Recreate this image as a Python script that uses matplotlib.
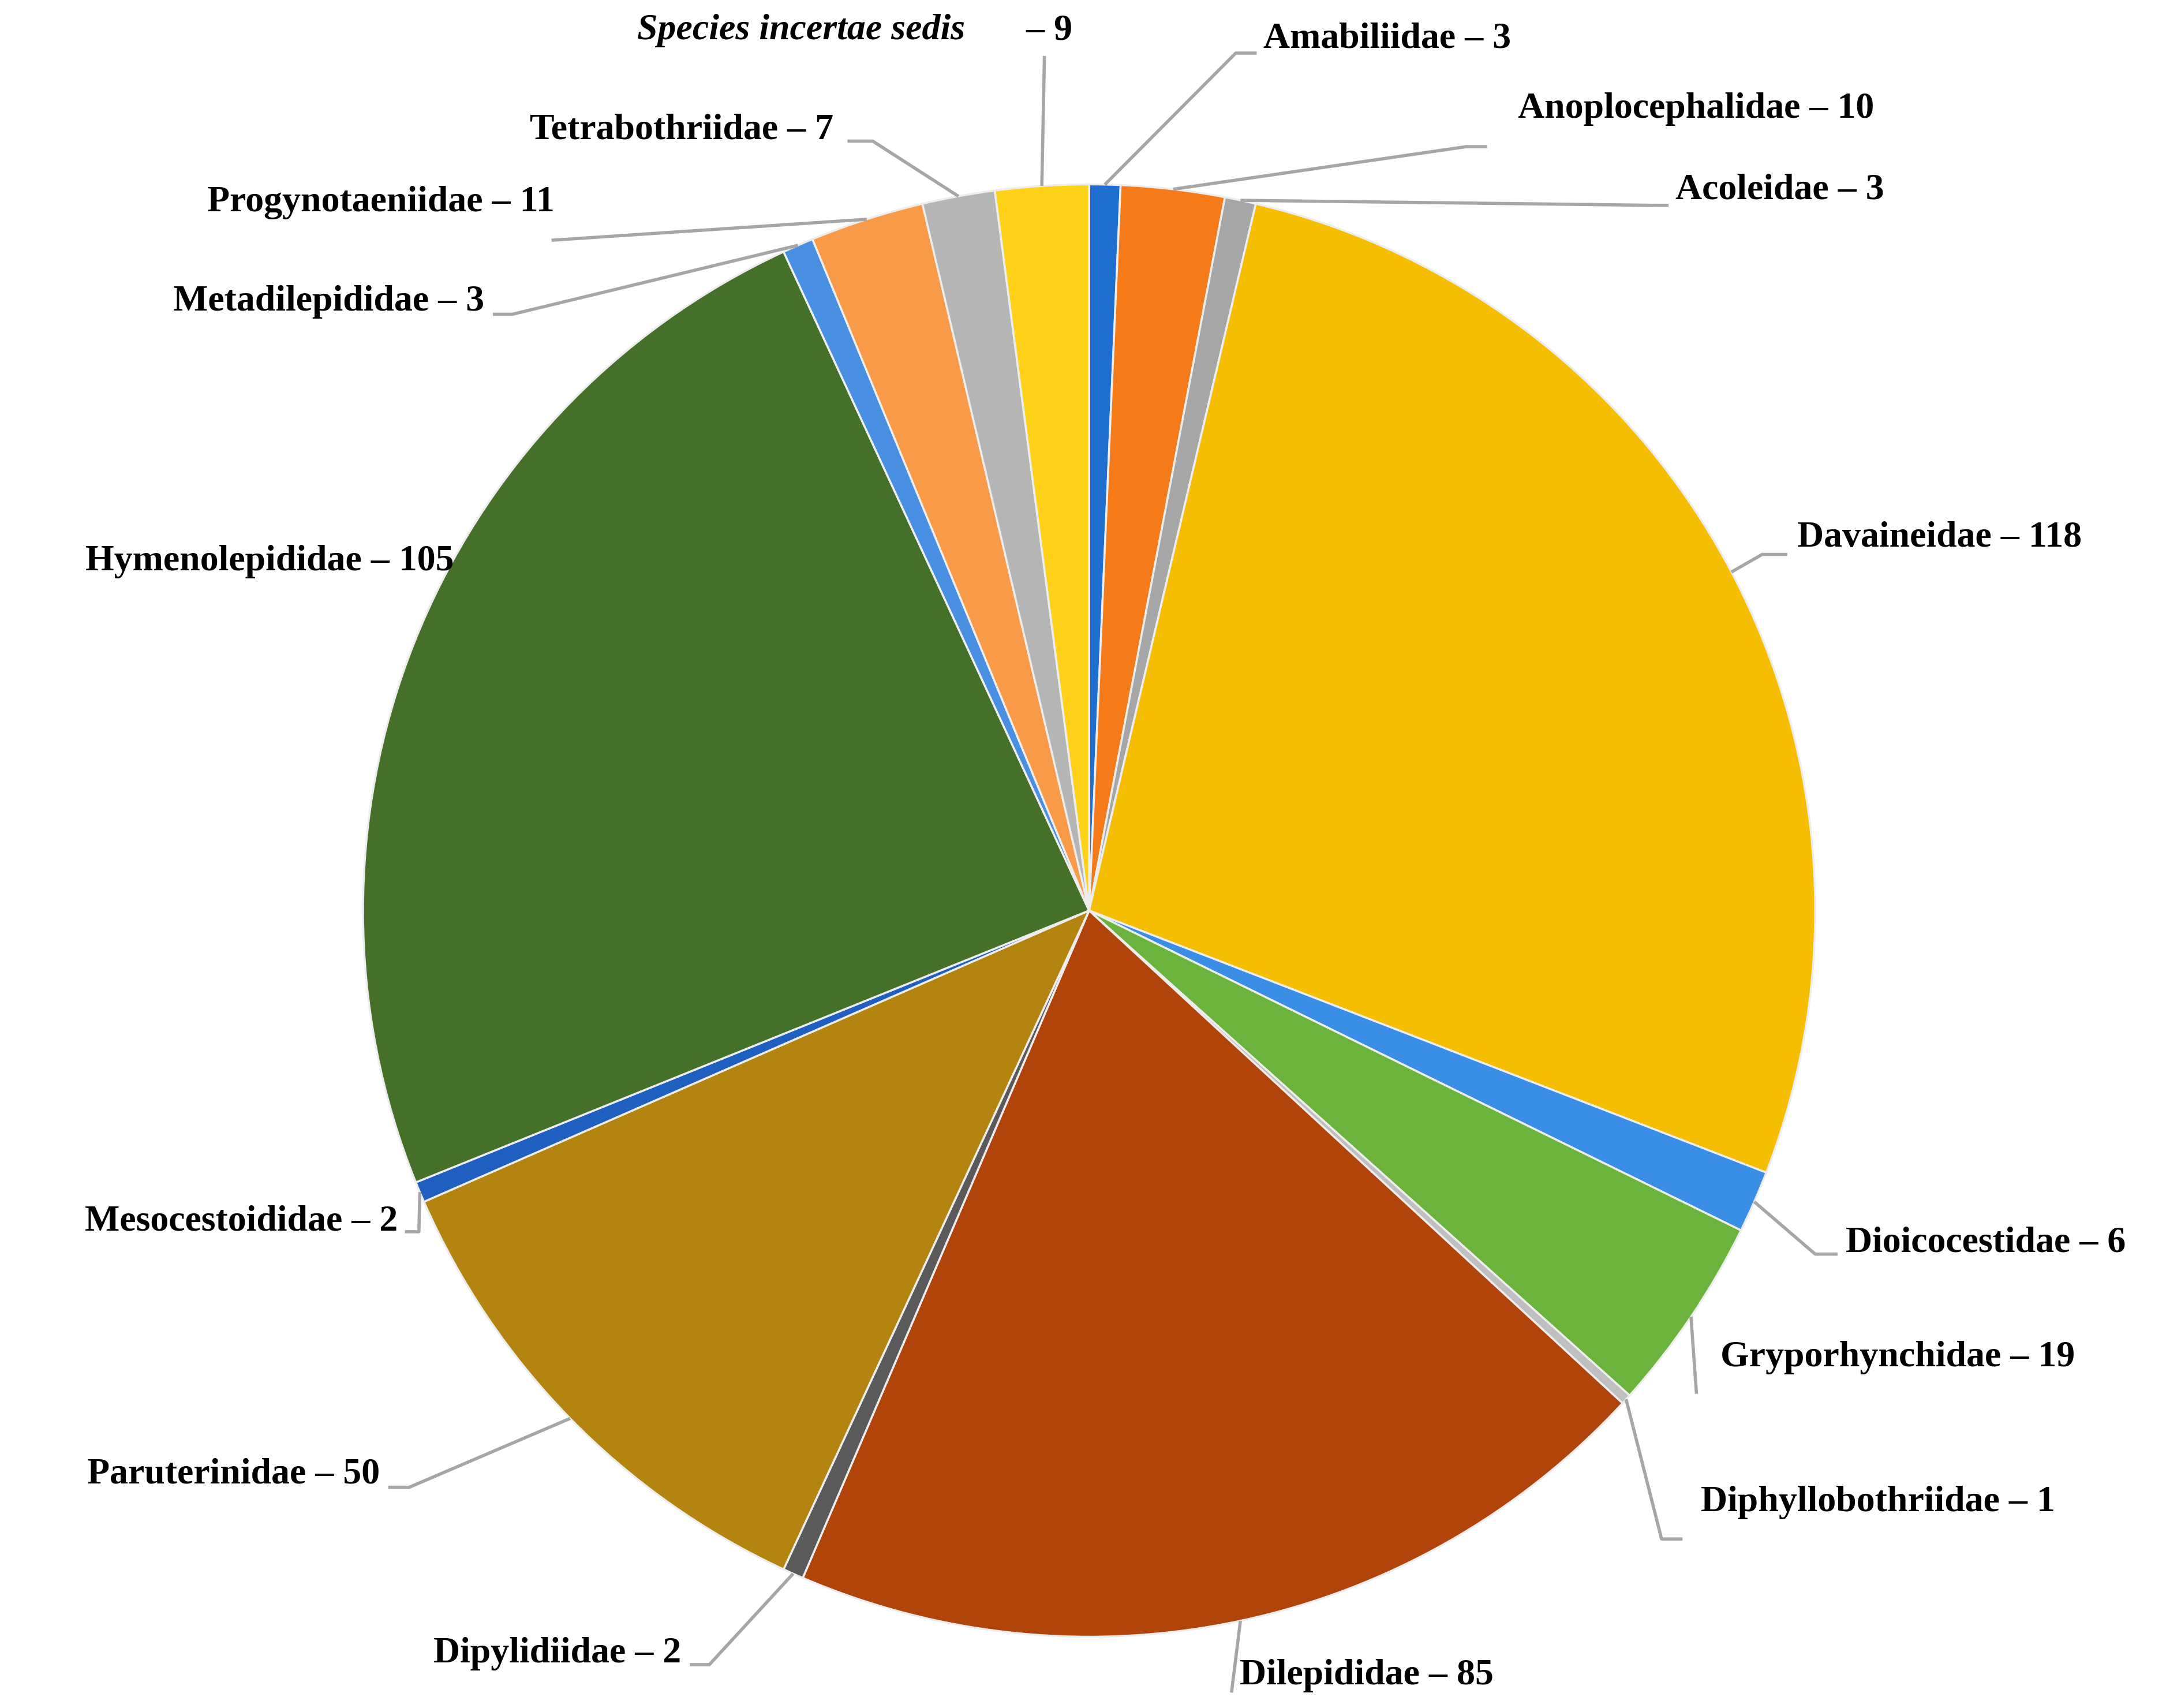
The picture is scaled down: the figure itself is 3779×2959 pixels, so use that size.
import numpy as np
import matplotlib
matplotlib.use('Agg')
import matplotlib.pyplot as plt

# data, clockwise from 12 o'clock
families = ['Amabiliidae', 'Anoplocephalidae', 'Acoleidae', 'Davaineidae', 'Dioicocestidae',
            'Gryporhynchidae', 'Diphyllobothriidae', 'Dilepididae', 'Dipylidiidae', 'Paruterinidae',
            'Mesocestoididae', 'Hymenolepididae', 'Metadilepididae', 'Progynotaeniidae',
            'Tetrabothriidae', 'Species incertae sedis']
counts = [3, 10, 3, 118, 6, 19, 1, 85, 2, 50, 2, 105, 3, 11, 7, 9]
colors = ['#1F6FD0', '#F57A1A', '#A6A6A6', '#F5BE00', '#3A8EE6',
          '#6BB33C', '#BFBFBF', '#B0440A', '#5A5A5A', '#B38410',
          '#1F5FBF', '#44702A', '#4A90E2', '#F89A48',
          '#B5B5B5', '#FFD21A']

# label layout in pixel units of a 1562x1223 canvas (y down): text x, text y, align, leader path
labels = [
    (905, 28, 'left', [(885, 38), (900, 38)]),
    (1087, 78, 'left', [(1050, 105), (1065, 105)]),
    (1200, 136, 'left', [(1185, 147), (1195, 147)]),
    (1287, 385, 'left', [(1262, 397), (1280, 397)]),
    (1322, 890, 'left', [(1300, 898), (1316, 898)]),
    (1232, 972, 'left', [(1215, 998), (1215, 998)]),
    (1218, 1076, 'left', [(1190, 1102), (1205, 1102)]),
    (888, 1200, 'left', [(882, 1212), (882, 1212)]),
    (488, 1184, 'right', [(508, 1192), (494, 1192)]),
    (272, 1056, 'right', [(293, 1065), (278, 1065)]),
    (285, 875, 'right', [(300, 882), (290, 882)]),
    (325, 402, 'right', None),
    (347, 216, 'right', [(367, 225), (353, 225)]),
    (397, 145, 'right', [(395, 172), (395, 172)]),
    (597, 93, 'right', [(625, 101), (607, 101)]),
    (768, 22, 'right', [(748, 40), (748, 40)]),
]

W, H = 1562, 1223
cx, cy, R = 780, H - 652, 520

fig = plt.figure(figsize=(37.79, 29.59), dpi=100)
ax = fig.add_axes([0, 0, 1, 1])
ax.set_xlim(0, W)
ax.set_ylim(0, H)
ax.axis('off')

wedges, _ = ax.pie(counts, colors=colors, startangle=90, counterclock=False,
                   center=(cx, cy), radius=R, frame=True,
                   wedgeprops=dict(edgecolor='#EDEDED', linewidth=2.5))
ax.set_xlim(0, W)
ax.set_ylim(0, H)
ax.axis('off')

total = sum(counts)
start = 90.0
fs = 46
for name, n, w, (tx, ty, ha, path) in zip(families, counts, wedges, labels):
    frac = n / total * 360
    mid = np.deg2rad(start - frac / 2)
    start -= frac
    ex, ey = cx + R * np.cos(mid), cy + R * np.sin(mid)
    if path is not None:
        xs = [ex] + [p[0] for p in path]
        ys = [ey] + [H - p[1] for p in path]
        ax.plot(xs, ys, color='#A6A6A6', lw=4, solid_capstyle='butt')
    if name == 'Species incertae sedis':
        t = ax.text(tx, H - ty, ' – %d' % n, ha='right', va='center', fontsize=fs,
                    fontweight='bold', family='Liberation Serif')
        ax.text(tx - 77, H - ty, name, ha='right', va='center', fontsize=fs,
                fontweight='bold', fontstyle='italic', family='Liberation Serif')
    else:
        ax.text(tx, H - ty, '%s – %d' % (name, n), ha=ha, va='center', fontsize=fs,
                fontweight='bold', family='Liberation Serif')

fig.savefig('out.png', dpi=100, facecolor='white')
